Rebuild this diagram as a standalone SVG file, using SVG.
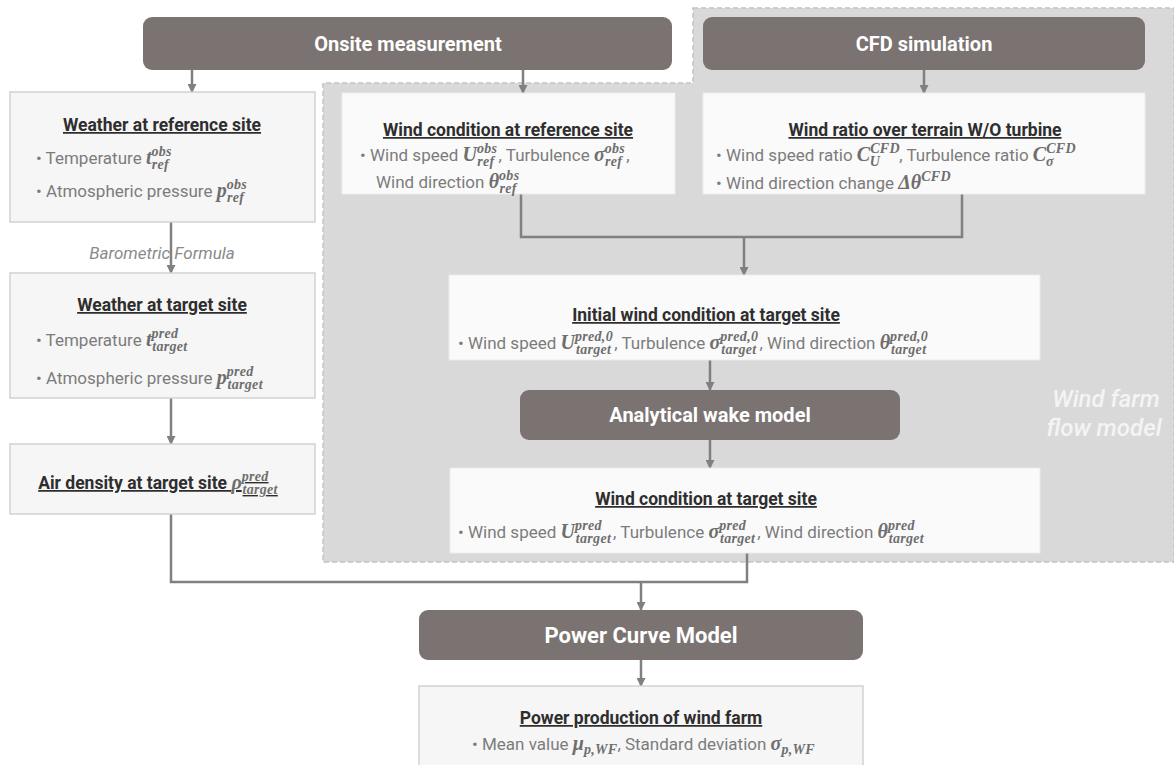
<svg xmlns="http://www.w3.org/2000/svg" width="1174" height="765" viewBox="0 0 1174 765">
<defs>
<marker id="arr" viewBox="0 0 10 10" refX="9" refY="5" markerWidth="10" markerHeight="9" markerUnits="userSpaceOnUse" orient="auto">
<path d="M0,0 L10,5 L0,10 z" fill="#808080"/>
</marker>
<style>
.nd{fill:#7a7371}
.nt{font-family:Roboto,"Liberation Sans",sans-serif;font-weight:700;font-size:20px;fill:#ffffff;text-anchor:middle}
.bx{fill:#f6f6f6;stroke:#d2d2d2;stroke-width:1.5}
.bw{fill:#fafafa;stroke:#ececec;stroke-width:1}
.hd{font-family:Roboto,"Liberation Sans",sans-serif;font-weight:700;font-size:17.5px;fill:#2e2e2e;text-anchor:middle;text-decoration:underline}
.bd{font-family:Roboto,"Liberation Sans",sans-serif;font-size:17px;fill:#7c7c7c}
.m{font-family:"Liberation Serif",serif;font-style:italic;font-weight:700;font-size:20px;fill:#6e6e6e}
.s{font-family:"Liberation Serif",serif;font-style:italic;font-weight:700;font-size:14px;letter-spacing:0.3px;fill:#6e6e6e}
.ln{fill:none;stroke:#808080;stroke-width:2.5}
.it{font-family:Roboto,"Liberation Sans",sans-serif;font-style:italic;font-size:17px;fill:#8a8a8a;text-anchor:middle}
.wf{font-family:Roboto,"Liberation Sans",sans-serif;font-style:italic;font-weight:500;font-size:24px;fill:#f4f4f4;text-anchor:middle}
</style>
</defs>
<rect width="1174" height="765" fill="#ffffff"/>

<g id="flow-model-region">
<path d="M693,8 L1174,8 L1174,562 L323,562 L323,83 L693,83 Z" fill="#d9d9d9" stroke="#c4c4c4" stroke-width="1.5" stroke-dasharray="5 3"/>
<text class="wf" x="1106" y="407">Wind farm</text>
<text class="wf" x="1104" y="436">flow model</text>
</g>

<g id="connectors">
<line class="ln" x1="192" y1="70" x2="192" y2="92" marker-end="url(#arr)"/>
<line class="ln" x1="523" y1="70" x2="523" y2="93" marker-end="url(#arr)"/>
<line class="ln" x1="924" y1="70" x2="924" y2="93" marker-end="url(#arr)"/>
<line class="ln" x1="171" y1="222" x2="171" y2="273" marker-end="url(#arr)"/>
<line class="ln" x1="171" y1="398" x2="171" y2="444" marker-end="url(#arr)"/>
<path class="ln" d="M521,194 V237 H962 V194"/>
<line class="ln" x1="744" y1="237" x2="744" y2="275" marker-end="url(#arr)"/>
<line class="ln" x1="710" y1="360" x2="710" y2="390" marker-end="url(#arr)"/>
<line class="ln" x1="710" y1="440" x2="710" y2="468" marker-end="url(#arr)"/>
<path class="ln" d="M171,514 V582 H747 V553"/>
<line class="ln" x1="641" y1="582" x2="641" y2="610" marker-end="url(#arr)"/>
<line class="ln" x1="641" y1="660" x2="641" y2="686" marker-end="url(#arr)"/>
<text class="it" x="162" y="259">Barometric Formula</text>
</g>

<g id="onsite-measurement">
<rect class="nd" x="143" y="17" width="529" height="53" rx="9"/>
<text class="nt" x="408" y="51">Onsite measurement</text>
</g>

<g id="cfd-simulation">
<rect class="nd" x="703" y="17" width="442" height="53" rx="9"/>
<text class="nt" x="924" y="51">CFD simulation</text>
</g>

<g id="weather-reference">
<rect class="bx" x="10" y="92" width="305" height="130"/>
<text class="hd" x="162" y="131">Weather at reference site</text>
<text class="bd" x="36" y="164">• Temperature <tspan class="m">t</tspan><tspan class="s" dy="-8">obs</tspan><tspan class="s" dx="-20" dy="13">ref</tspan></text>
<text class="bd" x="36" y="197">• Atmospheric pressure <tspan class="m">p</tspan><tspan class="s" dy="-8">obs</tspan><tspan class="s" dx="-20" dy="13">ref</tspan></text>
</g>

<g id="wind-condition-reference">
<rect class="bw" x="342" y="93" width="333" height="101"/>
<text class="hd" x="508" y="136">Wind condition at reference site</text>
<text class="bd" x="360" y="161">• Wind speed <tspan class="m">U</tspan><tspan class="s" dy="-8">obs</tspan><tspan class="s" dx="-20" dy="13">ref</tspan><tspan dy="-5" dx="4">, Turbulence </tspan><tspan class="m">σ</tspan><tspan class="s" dy="-8">obs</tspan><tspan class="s" dx="-20" dy="13">ref</tspan><tspan dy="-5" dx="4">,</tspan></text>
<text class="bd" x="376" y="188">Wind direction <tspan class="m">θ</tspan><tspan class="s" dy="-8">obs</tspan><tspan class="s" dx="-20" dy="13">ref</tspan></text>
</g>

<g id="wind-ratio">
<rect class="bw" x="703" y="93" width="442" height="101"/>
<text class="hd" x="925" y="136">Wind ratio over terrain W/O turbine</text>
<text class="bd" x="716" y="161">• Wind speed ratio <tspan class="m">C</tspan><tspan class="s" dy="-8">CFD</tspan><tspan class="s" dx="-30" dy="13">U</tspan><tspan dy="-5" dx="19">, Turbulence ratio </tspan><tspan class="m">C</tspan><tspan class="s" dy="-8">CFD</tspan><tspan class="s" dx="-30" dy="13">σ</tspan></text>
<text class="bd" x="716" y="189">• Wind direction change <tspan class="m">Δθ</tspan><tspan class="s" dy="-8">CFD</tspan></text>
</g>

<g id="weather-target">
<rect class="bx" x="10" y="273" width="305" height="125"/>
<text class="hd" x="162" y="311">Weather at target site</text>
<text class="bd" x="36" y="346">• Temperature <tspan class="m">t</tspan><tspan class="s" dy="-8">pred</tspan><tspan class="s" dx="-26" dy="13">target</tspan></text>
<text class="bd" x="36" y="384">• Atmospheric pressure <tspan class="m">p</tspan><tspan class="s" dy="-8">pred</tspan><tspan class="s" dx="-26" dy="13">target</tspan></text>
</g>

<g id="air-density">
<rect class="bx" x="10" y="444" width="305" height="70"/>
<text class="hd" x="158" y="489">Air density at target site <tspan class="m">ρ</tspan><tspan class="s" dy="-8">pred</tspan><tspan class="s" dx="-26" dy="13">target</tspan></text>
</g>

<g id="initial-wind-condition">
<rect class="bw" x="449" y="275" width="591" height="85"/>
<text class="hd" x="706" y="321">Initial wind condition at target site</text>
<text class="bd" x="458" y="349">• Wind speed <tspan class="m">U</tspan><tspan class="s" dy="-8">pred,0</tspan><tspan class="s" dx="-37" dy="13">target</tspan><tspan dy="-5" dx="3">, Turbulence </tspan><tspan class="m">σ</tspan><tspan class="s" dy="-8">pred,0</tspan><tspan class="s" dx="-37" dy="13">target</tspan><tspan dy="-5" dx="3">, Wind direction </tspan><tspan class="m">θ</tspan><tspan class="s" dy="-8">pred,0</tspan><tspan class="s" dx="-37" dy="13">target</tspan></text>
</g>

<g id="analytical-wake-model">
<rect class="nd" x="520" y="390" width="380" height="50" rx="9"/>
<text class="nt" x="710" y="422">Analytical wake model</text>
</g>

<g id="wind-condition-target">
<rect class="bw" x="450" y="468" width="590" height="85"/>
<text class="hd" x="706" y="505">Wind condition at target site</text>
<text class="bd" x="458" y="538">• Wind speed <tspan class="m">U</tspan><tspan class="s" dy="-8">pred</tspan><tspan class="s" dx="-26" dy="13">target</tspan><tspan dy="-5" dx="2">, Turbulence </tspan><tspan class="m">σ</tspan><tspan class="s" dy="-8">pred</tspan><tspan class="s" dx="-26" dy="13">target</tspan><tspan dy="-5" dx="2">, Wind direction </tspan><tspan class="m">θ</tspan><tspan class="s" dy="-8">pred</tspan><tspan class="s" dx="-26" dy="13">target</tspan></text>
</g>

<g id="power-curve-model">
<rect class="nd" x="419" y="610" width="444" height="50" rx="9"/>
<text class="nt" x="641" y="643" style="font-size:22px">Power Curve Model</text>
</g>

<g id="power-production">
<rect class="bx" x="419" y="686" width="444" height="90"/>
<text class="hd" x="641" y="724">Power production of wind farm</text>
<text class="bd" x="472" y="750">•   Mean value <tspan class="m">μ</tspan><tspan class="s" dy="4">p,WF</tspan><tspan dy="-4">, Standard deviation </tspan><tspan class="m">σ</tspan><tspan class="s" dy="4">p,WF</tspan></text>
</g>
</svg>
